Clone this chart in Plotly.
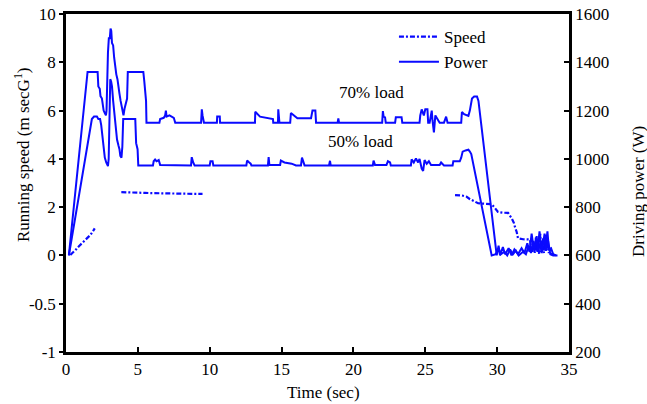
import plotly.graph_objects as go

# ---------------- data ----------------
# Speed (m/s, left axis), three recorded segments
speed1_t = [0.3, 0.5, 0.7, 0.9, 1.1, 1.3, 1.5, 1.7, 1.85, 2.0]
speed1_v = [0.02, 0.12, 0.25, 0.38, 0.5, 0.6, 0.72, 0.85, 0.98, 1.12]

speed2_t = [3.85, 4.2, 4.6, 5.0, 5.5, 6.0, 6.5, 7.0, 7.5, 8.0, 8.5, 9.0, 9.5]
speed2_v = [2.62, 2.62, 2.61, 2.6, 2.59, 2.58, 2.57, 2.57, 2.56, 2.55, 2.55, 2.55, 2.55]

speed3_t = [27.07, 27.56, 27.88, 28.11, 28.39, 28.67, 29.15, 29.62, 29.85, 30.06, 30.41,
            30.76, 31.01, 31.17, 31.24, 31.36, 31.45, 31.8, 32.29, 32.35, 32.45, 32.55,
            32.62, 32.7, 32.78, 32.85, 32.92, 33.0, 33.08, 33.15, 33.25, 33.35, 33.42,
            33.5, 33.6, 33.7, 33.8, 33.9, 34.0]
speed3_v = [2.5, 2.48, 2.43, 2.33, 2.25, 2.16, 2.14, 2.12, 1.96, 1.8, 1.77,
            1.76, 1.54, 1.34, 1.18, 0.97, 0.71, 0.67, 0.66, 0.3, 0.15, 0.5,
            0.1, 0.75, 0.2, 0.6, 0.05, 0.9, 0.15, 0.5, 0.1, 0.85, 0.2,
            0.6, 0.1, 0.3, 0.1, 0.05, 0.05]

# Driving power (W, right axis), 70% load
p70_t = [0.2, 1.5, 2.2, 2.25, 2.35, 2.4, 2.5, 2.55, 2.62, 2.7, 2.78, 2.82, 2.86, 2.92,
         2.98, 3.05, 3.1, 3.15, 3.2, 3.28, 3.35, 3.42, 3.5, 3.58, 3.65, 3.72, 3.8, 3.86,
         3.92, 4.0, 4.08, 4.15, 4.25, 4.3, 5.38, 5.45, 5.52, 5.57, 5.6,
         6.5, 6.55, 6.8, 6.9, 6.95, 7.0, 7.2, 7.5, 7.6, 9.4, 9.45, 9.5, 9.6,
         10.5, 10.52, 10.7, 10.72, 13.15, 13.17, 13.5, 14.4, 14.42, 14.75, 14.77, 14.85,
         15.6, 15.65, 16.1, 17.05, 17.15, 17.35, 17.4, 18.9, 18.95, 19.0,
         22.0, 22.05, 22.1, 22.2, 22.25, 22.9, 22.95, 23.35, 23.4,
         24.6, 24.65, 24.75, 24.9, 25.0, 25.15, 25.2, 25.3, 25.45, 25.5, 25.6, 25.7,
         25.85, 26.0, 26.3, 26.45, 26.55, 27.5, 27.55, 27.7, 28.0, 28.1, 28.25, 28.4,
         28.6, 28.7, 29.97, 30.1, 30.2, 30.4, 30.55, 30.8, 31.0, 31.2, 31.45, 31.7,
         31.9, 32.1, 32.25, 32.4, 32.55, 32.7, 32.8, 32.95, 33.05, 33.2, 33.35, 33.5,
         33.6, 33.75, 33.9, 34.1]
p70_w = [600, 1360, 1360, 1300, 1290, 1260, 1250, 1220, 1200, 1190, 1180, 1200, 1360, 1440,
         1500, 1500, 1540, 1530, 1480, 1470, 1420, 1380, 1350, 1330, 1290, 1270, 1240, 1220,
         1190, 1180, 1210, 1230, 1250, 1360, 1360, 1320, 1250, 1240, 1150,
         1150, 1165, 1170, 1180, 1200, 1175, 1180, 1170, 1150, 1150, 1205, 1180, 1150,
         1150, 1175, 1175, 1150, 1150, 1195, 1175, 1165, 1150, 1150, 1205, 1150,
         1150, 1190, 1168, 1168, 1200, 1200, 1150, 1150, 1167, 1150,
         1150, 1198, 1175, 1172, 1150, 1150, 1172, 1172, 1150,
         1150, 1180, 1205, 1180, 1205, 1205, 1150, 1150, 1200, 1160, 1110, 1180,
         1165, 1150, 1150, 1175, 1150, 1150, 1194, 1185, 1178, 1200, 1250, 1258,
         1258, 1240, 600, 640, 600, 635, 605, 630, 600, 625, 605, 630,
         610, 650, 615, 690, 625, 670, 615, 700, 630, 670, 620, 700,
         625, 630, 605, 600]

# Driving power (W, right axis), 50% load
p50_t = [0.2, 1.7, 1.8, 1.95, 2.15, 2.25, 2.37, 2.45, 2.55, 2.62, 2.7, 2.8, 2.92, 2.97,
         3.02, 3.08, 3.14, 3.2, 3.28, 3.38, 3.46, 3.55, 3.65, 3.72, 3.78, 3.86, 3.92, 3.98,
         4.82, 4.88, 4.98, 5.03,
         6.05, 6.1, 6.2, 6.3, 6.45, 6.55, 8.7, 8.75, 8.85, 8.95, 10.0, 10.05, 10.2, 10.25,
         12.55, 12.6, 12.75, 12.85, 12.9, 14.05, 14.1, 14.15, 14.9, 14.95, 15.2, 15.7, 16.0,
         16.35, 16.42, 16.5, 16.6, 18.3, 18.37, 18.42, 21.35, 21.4, 21.5, 22.3, 22.4, 22.55,
         22.6, 24.0, 24.05, 24.2, 24.35, 24.5, 24.6, 24.75, 24.85, 24.95, 25.1, 25.25, 25.4,
         26.0, 26.1, 26.3, 26.9, 26.95, 27.4, 27.5, 27.6, 27.8, 28.0, 28.1, 28.2, 29.62,
         29.9, 30.1, 30.25, 30.5, 30.7, 30.9, 31.1, 31.3, 31.5, 31.8, 32.0, 32.2, 32.35,
         32.5, 32.6, 32.75, 32.85, 33.0, 33.1, 33.3, 33.4, 33.55, 33.7, 33.9, 34.2]
p50_w = [600, 1140, 1165, 1175, 1175, 1165, 1165, 1140, 1085, 1045, 1005, 985, 970, 1000,
         1250, 1330, 1320, 1300, 1240, 1185, 1130, 1080, 1055, 1040, 1012, 1005, 1050, 1165,
         1165, 1065, 1040, 973,
         973, 990, 997, 990, 995, 975, 973, 1007, 985, 973, 973, 990, 990, 973,
         973, 993, 985, 980, 973, 973, 1007, 975, 975, 993, 985, 980, 973,
         973, 1005, 990, 973, 973, 992, 973, 973, 993, 975, 975, 990, 985,
         973, 973, 998, 985, 1002, 985, 1000, 960, 950, 995, 980, 990, 975,
         975, 985, 973, 973, 990, 990, 1005, 1030, 1035, 1038, 1030, 1020, 600,
         605, 630, 605, 615, 600, 625, 605, 620, 600, 615, 605, 640, 610,
         660, 615, 680, 620, 650, 610, 690, 620, 660, 605, 600, 600]

x_ticks = [0, 5, 10, 15, 20, 25, 30, 35]
left_tickvals = [10, 8, 6, 4, 2, 0, -2, -4]
left_ticktext = ["10", "8", "6", "4", "2", "0", "-0.5", "-1"]
right_ticks = [1600, 1400, 1200, 1000, 800, 600, 400, 200]

# ---------------- figure ----------------
BLUE = "#0a0aff"
FONT = "Liberation Serif"
FS = 17

speed_t = speed1_t + [None] + speed2_t + [None] + speed3_t
speed_v = speed1_v + [None] + speed2_v + [None] + speed3_v

fig = go.Figure()
fig.add_trace(go.Scatter(x=speed_t, y=speed_v, mode="lines", name="Speed",
                         line=dict(color=BLUE, width=2.2, dash="5px,2px,2px,2px"),
                         connectgaps=False, yaxis="y"))
fig.add_trace(go.Scatter(x=p70_t, y=p70_w, mode="lines", name="Power",
                         line=dict(color=BLUE, width=2), yaxis="y2"))
fig.add_trace(go.Scatter(x=p50_t, y=p50_w, mode="lines", name="Power 50%",
                         showlegend=False,
                         line=dict(color=BLUE, width=2), yaxis="y2"))

fig.update_layout(
    width=647, height=404,
    margin=dict(l=66, r=78, t=14, b=52),
    paper_bgcolor="white", plot_bgcolor="white",
    font=dict(family=FONT, size=FS, color="black"),
    showlegend=True,
    legend=dict(x=0.652, y=0.985, xanchor="left", yanchor="top",
                bgcolor="rgba(0,0,0,0)", font=dict(size=FS, family=FONT),
                tracegroupgap=0, itemwidth=40),
    xaxis=dict(range=[0, 35], tickvals=x_ticks, showgrid=False, zeroline=False,
               showline=True, linecolor="black", linewidth=2.5, mirror=True,
               ticks="inside", ticklen=5, tickwidth=1.5, tickcolor="black",
               automargin=False, ticklabeloverflow="allow",
               tickfont=dict(size=FS, family=FONT)),
    yaxis=dict(range=[-4, 10], tickvals=left_tickvals, ticktext=left_ticktext,
               showgrid=False, zeroline=False, showline=True, linecolor="black",
               linewidth=2.5, ticks="outside", ticklen=4, tickwidth=1.5,
               automargin=False, ticklabeloverflow="allow",
               tickcolor="black", tickfont=dict(size=FS, family=FONT)),
    yaxis2=dict(range=[200, 1600], tickvals=right_ticks, overlaying="y", side="right",
                showgrid=False, zeroline=False, showline=True, linecolor="black",
                linewidth=2.5, ticks="inside", ticklen=5, tickwidth=1.5,
                automargin=False, ticklabeloverflow="allow",
                tickcolor="black", tickfont=dict(size=FS, family=FONT)),
)

# text placed by window-pixel centre, converted to paper coordinates
pl, pr, pt, pb = 66, 569, 14, 352
labels = [
    ("70% load", 371, 93, 0),
    ("50% load", 360, 141, 0),
    ("Time (sec)", 323, 392, 0),
    ("Running speed (m secG<sup>1</sup>)", 22, 155, -90),
    ("Driving power (W)", 638, 192, -90),
]
for text, px, py, ang in labels:
    fig.add_annotation(text=text, x=(px - pl) / (pr - pl), y=(pb - py) / (pb - pt),
                       xref="paper", yref="paper", xanchor="center", yanchor="middle",
                       showarrow=False, textangle=ang, font=dict(size=FS, family=FONT))

# the figure fills the window exactly: remove the page's default body margin
fig.write_html("out.html", config={"displayModeBar": False},
               post_script="document.body.style.margin='0';document.body.style.overflow='hidden';")
